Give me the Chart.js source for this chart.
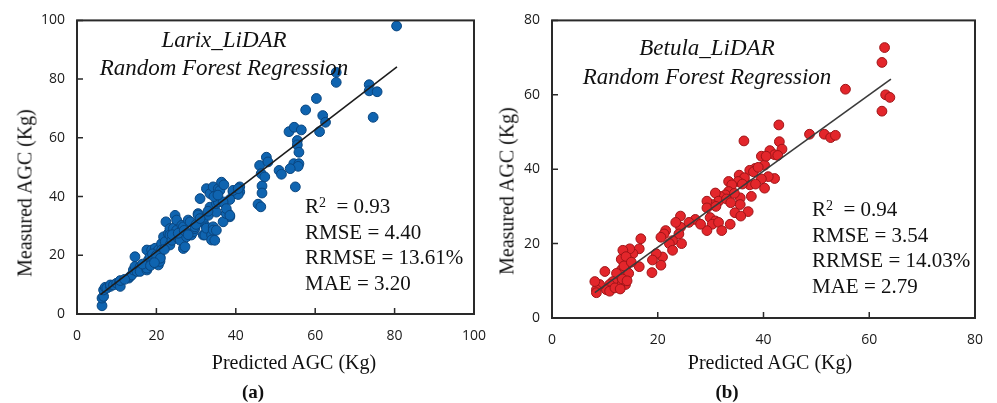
<!DOCTYPE html>
<html>
<head>
<meta charset="utf-8">
<script src="https://cdn.jsdelivr.net/npm/chart.js@4"></script>
<style>
  html, body { margin: 0; padding: 0; background: #fff; }
  #wrap { position: relative; width: 997px; height: 403px; overflow: hidden; }
  canvas { position: absolute; top: 0; }
  .t { position: absolute; transform: translate(-50%, -50%); white-space: nowrap;
       font-family: "Liberation Serif", "Times New Roman", serif; color: #111; }
  .ti { font-style: italic; font-size: 23px; }
  .ax { font-size: 20px; }
  .rot { transform: translate(-50%, -50%) rotate(-90deg); }
  .cap { font-size: 19px; font-weight: bold; }
  .stats { position: absolute; font-family: "Liberation Serif", "Times New Roman", serif;
           font-size: 21px; line-height: 25.5px; color: #111; white-space: nowrap; }
  .stats sup { font-size: 14px; vertical-align: 6px; line-height: 0; }
</style>
</head>
<body>
<div id="wrap">
  <canvas id="cLarix" width="500" height="403" style="left:0"></canvas>
  <canvas id="cBetula" width="497" height="403" style="left:500px"></canvas>

  <div class="t ti" style="left:224px;top:40px">Larix_LiDAR</div>
  <div class="t ti" style="left:224px;top:68px">Random Forest Regression</div>
  <div class="stats" style="left:305px;top:194px">R<sup>2</sup>&nbsp; = 0.93<br>RMSE = 4.40<br>RRMSE = 13.61%<br>MAE = 3.20</div>
  <div class="t ax rot" style="left:25px;top:193px">Measured AGC (Kg)</div>
  <div class="t ax" style="left:294px;top:362px">Predicted AGC (Kg)</div>
  <div class="t cap" style="left:253px;top:392px">(a)</div>

  <div class="t ti" style="left:707px;top:48px">Betula_LiDAR</div>
  <div class="t ti" style="left:707px;top:77px">Random Forest Regression</div>
  <div class="stats" style="left:812px;top:197px">R<sup>2</sup>&nbsp; = 0.94<br>RMSE = 3.54<br>RRMSE = 14.03%<br>MAE = 2.79</div>
  <div class="t ax rot" style="left:507px;top:191px">Measured AGC (Kg)</div>
  <div class="t ax" style="left:770px;top:362px">Predicted AGC (Kg)</div>
  <div class="t cap" style="left:727px;top:392px">(b)</div>
</div>

<script>
// --- Datos ------------------------------------------------------------------
// (a) Larix: pares [predicho, medido]
const larixPuntos = [
  [80.5,98.1],[65.3,82.3],[65.3,78.9],[73.6,78.1],[73.6,76.0],[75.6,75.7],[74.6,67.0],
  [60.3,73.4],[57.6,69.5],[61.9,67.6],[62.6,65.3],[61.1,62.1],[53.4,62.1],[54.7,63.6],
  [56.5,62.7],[55.5,59.1],[55.5,57.6],[55.9,55.1],[54.6,51.2],[55.9,51.2],[55.7,50.3],
  [53.7,49.5],[50.9,48.9],[51.5,47.6],[55.0,43.3],[46.0,50.6],[47.7,53.4],[48.1,51.8],
  [46.4,47.8],[47.3,46.7],[46.6,43.6],[46.6,41.2],[45.6,37.4],[46.3,36.5],[41.0,41.6],
  [39.3,41.6],[40.6,40.7],[38.5,39.0],[38.1,34.2],[38.5,33.1],
  [6.3,2.8],[6.3,5.4],[6.7,6.0],[6.7,8.2],[7.1,9.1],[7.5,8.8],[8.4,9.4],[8.4,9.9],
  [9.2,9.9],[10.0,10.5],[10.7,11.0],[10.9,9.4],[10.9,11.4],[13.0,12.2],[13.4,12.8],
  [13.8,13.3],[14.2,15.0],[14.6,19.5],[14.6,16.2],[15.1,14.5],[15.9,16.1],[15.9,14.5],
  [17.6,15.0],[17.6,17.3],[17.6,21.8],[18.0,18.4],[17.6,15.6],[18.4,19.5],[18.8,21.8],
  [19.7,18.4],[19.7,22.4],[19.3,19.0],[20.5,16.7],[20.9,19.5],[20.9,17.9],[20.5,21.8],
  [21.3,24.0],[21.3,21.8],[21.8,26.3],[22.2,24.6],[22.4,31.4],[23.0,27.4],[23.4,29.1],
  [23.4,26.9],[23.4,23.5],[23.9,25.1],[24.3,29.2],[24.7,33.6],[25.1,28.5],[25.1,32.0],
  [25.5,25.8],[26.0,25.1],[26.4,30.2],[26.8,22.3],[26.8,29.7],[27.2,22.9],[27.6,26.3],
  [28.0,32.0],[28.5,31.4],[28.8,26.9],[29.3,28.0],[29.7,29.1],[29.7,29.7],[30.5,34.2],
  [30.5,33.7],[31.0,39.3],[31.4,31.4],[31.8,26.9],[31.8,31.4],[32.2,26.9],[32.6,29.7],
  [32.6,29.2],[32.6,42.7],[33.1,33.6],[33.5,41.0],[33.5,36.4],[33.9,26.9],[33.9,25.2],
  [34.3,29.7],[34.3,28.6],[34.3,43.3],[34.7,25.1],[35.1,34.7],[35.1,28.5],[35.1,37.6],
  [35.6,38.1],[35.6,42.7],[36.0,42.1],[36.4,44.9],[36.8,31.4],[36.8,38.2],[37.6,34.2],
  [37.6,35.9],[38.5,33.6],[39.3,42.1],[41.0,43.3],[40.6,42.7],
  [19.0,20.5],[20.0,20.0],[21.0,19.0],[22.0,22.0],[24.0,27.0],[25.5,27.5],[27.0,28.5],
  [28.0,27.0],[30.0,30.5],[31.0,32.5],[33.0,35.0],[34.5,40.0],[35.5,40.5],[37.0,44.0],
  [12.0,11.8],[16.5,17.0],[18.5,16.5],[19.5,17.5]
];
const larixAjusteX = [5.9, 80.6];
const larixAjusteY = [6.6, 84.2];
const larixTicksX = [0, 20, 40, 60, 80, 100];
const larixTicksY = [0, 20, 40, 60, 80, 100];

// (b) Betula
const betulaPuntos = [
  [62.9,72.7],[62.4,68.7],[63.1,60.0],[63.9,59.3],[62.4,55.6],[55.5,61.5],[48.7,49.4],
  [51.5,49.4],[52.7,48.5],[53.6,49.1],[42.9,51.9],[43.0,47.4],[43.5,45.4],[36.3,47.6],
  [41.2,45.0],[39.6,43.5],[42.1,43.9],[40.2,41.1],[42.7,43.7],[42.1,37.5],[40.9,38.0],
  [40.2,34.9],[39.6,37.4],[38.4,40.2],[37.4,39.7],[38.1,39.3],[37.7,32.7],[37.1,28.6],
  [37.4,35.8],[35.4,38.4],[36.4,37.7],[35.2,36.7],[35.6,32.3],[35.6,30.5],[34.6,28.3],
  [35.7,27.4],[33.4,36.7],[34.0,35.8],[33.4,34.0],[32.8,33.1],[31.8,32.7],[30.9,33.6],
  [31.5,31.4],[30.3,30.5],[29.3,31.4],[29.3,29.6],[29.9,27.0],[30.9,26.1],[30.3,25.2],
  [31.5,25.7],[32.1,23.5],[29.3,23.5],[33.7,25.2],[27.1,26.5],[28.1,25.2],[25.9,25.7],
  [24.3,27.4],[24.3,24.4],[24.0,22.6],[23.4,25.7],[24.5,20.0],[22.8,20.8],[21.5,23.5],
  [21.2,22.6],[20.6,21.7],[22.2,20.0],[22.8,18.2],[20.9,16.4],[20.6,14.2],[19.7,17.3],
  [19.0,15.6],[18.9,12.2],[16.8,21.3],[16.5,18.6],[16.5,13.8],[15.3,17.3],[14.7,18.6],
  [14.3,15.6],[13.4,18.2],[14.0,13.8],[13.7,11.2],[13.4,10.3],[13.9,9.0],[13.1,12.9],
  [12.8,8.5],[13.1,15.8],[12.2,12.0],[11.5,9.8],[10.9,9.0],[10.3,7.6],[10.0,12.5],
  [9.0,9.0],[8.4,7.6],[8.1,9.8],[8.4,6.8],[10.9,7.2],[11.9,8.1],[12.9,7.8],
  [14.0,16.5],[14.5,12.0],[13.6,14.0],[15.0,15.0],[13.3,10.5],[14.2,10.0],[31.0,30.0],
  [33.0,32.0],[34.5,33.5],[36.0,36.0],[39.0,40.5],[40.5,43.5],[38.5,36.0],[33.8,31.0]
];
const betulaAjusteX = [8.1, 64.1];
const betulaAjusteY = [6.8, 64.2];
const betulaTicksX = [0, 20, 40, 60, 80];
const betulaTicksY = [0, 20, 40, 60, 80];

// --- Marco y marcas de eje hacia dentro -------------------------------------
const marcoPlugin = {
  id: 'marco',
  afterDraw(chart) {
    const { ctx, chartArea: a, scales } = chart;
    ctx.save();
    ctx.strokeStyle = '#2a2a2a';
    ctx.lineWidth = 2;
    ctx.strokeRect(a.left, a.top, a.right - a.left, a.bottom - a.top);
    ctx.lineWidth = 1.5;
    ctx.beginPath();
    scales.x.ticks.forEach((t) => {
      const px = scales.x.getPixelForValue(t.value);
      ctx.moveTo(px, a.bottom); ctx.lineTo(px, a.bottom - 6);
    });
    scales.y.ticks.forEach((t) => {
      const py = scales.y.getPixelForValue(t.value);
      ctx.moveTo(a.left, py); ctx.lineTo(a.left + 6, py);
    });
    ctx.stroke();
    ctx.restore();
  },
};

function crearPanel(id, puntos, ajX, ajY, tx, ty, cfg) {
  const fuente = { family: '"Open Sans", Lato, sans-serif', size: 14 };
  const eje = (ticks, fit) => ({
    type: 'linear',
    min: ticks[0],
    max: ticks[ticks.length - 1],
    afterBuildTicks: (s) => { s.ticks = ticks.map((v) => ({ value: v })); },
    ticks: { font: fuente, color: '#1a1a1a', padding: fit.pad },
    grid: { display: false, drawTicks: false },
    border: { display: false },
    afterFit: fit.fn,
  });
  return new Chart(document.getElementById(id), {
    type: 'scatter',
    data: {
      datasets: [
        {
          data: ajX.map((x, i) => ({ x, y: ajY[i] })),
          showLine: true, pointRadius: 0, borderColor: cfg.linea, borderWidth: 1.6, order: -1,
        },
        {
          data: puntos.map(([x, y]) => ({ x, y })),
          pointRadius: 4.9, backgroundColor: cfg.relleno, borderColor: cfg.borde, borderWidth: 1,
        },
      ],
    },
    options: {
      responsive: false, animation: false, events: [],
      layout: { padding: cfg.padding },
      plugins: { legend: { display: false }, tooltip: { enabled: false } },
      scales: {
        x: eje(tx, { pad: 14, fn: (s) => { s.height = cfg.altoX; } }),
        y: eje(ty, { pad: 12, fn: (s) => { s.width = cfg.anchoY; } }),
      },
    },
    plugins: [marcoPlugin],
  });
}

crearPanel('cLarix', larixPuntos, larixAjusteX, larixAjusteY, larixTicksX, larixTicksY, {
  relleno: '#0f64b0', borde: '#0a4680', linea: '#1c1c1c',
  padding: { top: 19, right: 25, left: 0, bottom: 0 }, altoX: 89, anchoY: 77,
});
crearPanel('cBetula', betulaPuntos, betulaAjusteX, betulaAjusteY, betulaTicksX, betulaTicksY, {
  relleno: '#e3262b', borde: '#9e1518', linea: '#3a3a3a',
  padding: { top: 16, right: 18, left: 0, bottom: 0 }, altoX: 85, anchoY: 52,
});
</script>
</body>
</html>
